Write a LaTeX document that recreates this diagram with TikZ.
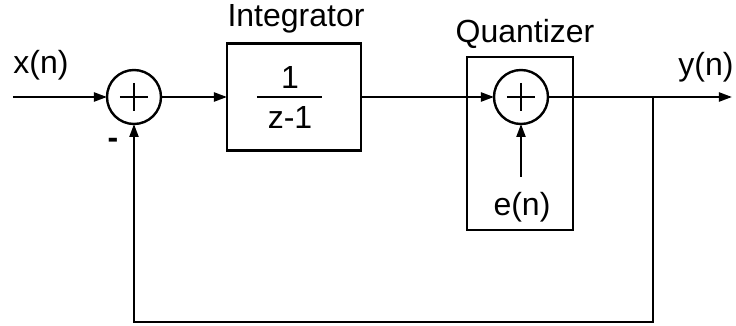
\documentclass[tikz,border=0pt]{standalone}
\usepackage{fontspec}
\setmainfont{Liberation Sans}
\usepackage{tikz}
\usetikzlibrary{positioning}
\usetikzlibrary{arrows.meta}
\tikzset{
  sumcircle/.style={shape=circle,draw,line width=1.2pt,minimum size=27pt,inner sep=0pt},
  blockbox/.style args={#1,#2}{shape=rectangle,draw,line width=1.2pt,minimum width=#1,minimum height=#2},
  sigline/.style={line width=1.1pt,-{Triangle[length=6.5pt,width=4.5pt]}}
}
\newcommand\sigtext[1]{{\fontsize{16}{19}\selectfont{#1}}}

\begin{document}
\begin{tikzpicture}[x=0.5pt, y=-0.5pt, every node/.style={inner sep=0pt, outer sep=0pt}]
\useasboundingbox (0,0) rectangle (736,326);
\node[sumcircle] (sumin) at (134,97) {};
\node[blockbox={67pt,53.5pt}] (integ) at (294,97) {};
\node[blockbox={53pt,86.5pt}] (quant) at (520,143.5) {};
\node[sumcircle] (sumq) at (521,97) {};
\coordinate (xin) at (13,97);
\coordinate (yout) at (732,97);
\coordinate (branch) at (653,97);
\coordinate (fbcorner) at (653,322);
\coordinate (etail) at (521,177);
\node (xlabel) at (41,65) {\sigtext{x(n)}};
\node (ylabel) at (706,67) {\sigtext{y(n)}};
\node (intlabel) at (296,19) {\sigtext{Integrator}};
\node (quantlabel) at (525,34) {\sigtext{Quantizer}};
\node (num) at (290,77) {\sigtext{1}};
\node (den) at (290,117) {\sigtext{z-1}};
\node (elabel) at (522,207) {\sigtext{e(n)}};
\node (minus) at (113,143) {\sigtext{\bfseries -}};
% plus signs and fraction bar
\draw[line width=1.1pt] (sumin.center) ++(-14,0) -- ++(28,0);
\draw[line width=1.1pt] (sumin.center) ++(0,-14) -- ++(0,28);
\draw[line width=1.1pt] (sumq.center) ++(-14,0) -- ++(28,0);
\draw[line width=1.1pt] (sumq.center) ++(0,-14) -- ++(0,28);
\draw[line width=1.1pt] (257,97) -- (322,97);
% signal paths
\draw[sigline] (xin) -- (sumin);
\draw[sigline] (sumin) -- (integ);
\draw[sigline] (integ) -- (sumq);
\draw[sigline] (sumq) -- (yout);
\draw[sigline] (etail) -- (sumq);
\draw[sigline] (branch) -- (fbcorner) -| (sumin.south);
\end{tikzpicture}
\end{document}
